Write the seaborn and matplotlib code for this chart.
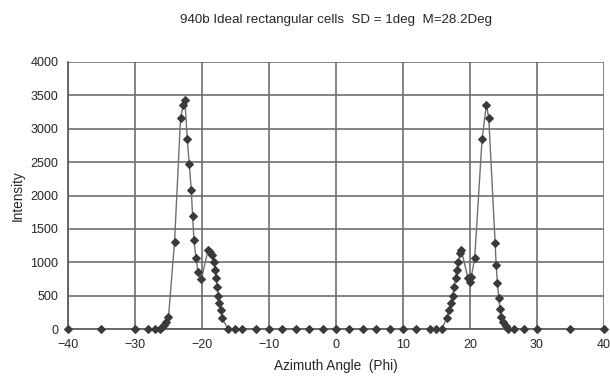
import matplotlib
matplotlib.use("Agg")
import matplotlib.pyplot as plt
import seaborn as sns
import pandas as pd

# Azimuth angle (deg) and intensity
phi = [-40, -35, -30, -28, -27, -26.3, -25.9, -25.6, -25.3, -25.0,
       -24.1, -23.2, -22.8, -22.55, -22.2, -21.9, -21.6, -21.4, -21.2,
       -20.9, -20.6, -20.1, -19.1, -18.8, -18.5, -18.25, -18.0, -17.85,
       -17.7, -17.55, -17.4, -17.2, -17.0, -16.1, -15, -14, -12, -10, -8,
       -6, -4, -2, 0, 2, 4, 6, 8, 10, 12, 14, 15, 15.8, 16.5, 16.9, 17.1,
       17.4, 17.65, 17.85, 18.0, 18.25, 18.5, 18.7, 19.7, 20.0, 20.2,
       20.7, 21.8, 22.45, 22.8, 23.75, 23.9, 24.1, 24.3, 24.5, 24.7, 24.9,
       25.3, 25.7, 26.5, 28, 30, 35, 40]
intensity = [0, 0, 0, 0, 0, 0, 25, 60, 110, 180,
             1300, 3160, 3360, 3430, 2840, 2470, 2080, 1690, 1330,
             1060, 860, 750, 1180, 1150, 1110, 1010, 880, 760,
             630, 500, 385, 285, 160, 0, 0, 0, 0, 0, 0,
             0, 0, 0, 0, 0, 0, 0, 0, 0, 0, 0, 0, 0, 160, 285, 385,
             494, 634, 760, 884, 1008, 1134, 1183, 760, 709, 784,
             1059, 2842, 3360, 3160, 1293, 959, 684, 460, 300, 184, 110,
             45, 0, 0, 0, 0, 0, 0]

x_ticks = [-40, -30, -20, -10, 0, 10, 20, 30, 40]
y_ticks = [0, 500, 1000, 1500, 2000, 2500, 3000, 3500, 4000]

title = "940b Ideal rectangular cells  SD = 1deg  M=28.2Deg"
x_label = "Azimuth Angle  (Phi)"
y_label = "Intensity"

sns.set_style("white")
plt.rcParams['font.family'] = ['Liberation Sans', 'DejaVu Sans']

df = pd.DataFrame({"phi": phi, "intensity": intensity})

fig = plt.figure(figsize=(6.10, 3.87), dpi=100)
ax = fig.add_axes([68/610, 1 - 329/387, (604-68)/610, (329-62)/387])

sns.lineplot(data=df, x="phi", y="intensity", ax=ax, color="#707070",
             linewidth=1.0, marker="D", markersize=4.2,
             markerfacecolor="#3a3a3a", markeredgecolor="#3a3a3a", sort=False,
             clip_on=False, zorder=5)

ax.set_xlim(-40, 40)
ax.set_ylim(0, 4000)
ax.set_xticks(x_ticks)
ax.set_yticks(y_ticks)
ax.grid(True, color="#6e6e6e", linewidth=1.2)
ax.set_axisbelow(True)
for s in ["top", "right"]:
    ax.spines[s].set_visible(False)
for s in ["left", "bottom"]:
    ax.spines[s].set_color("#555555")
    ax.spines[s].set_linewidth(1.2)
ax.tick_params(axis="both", labelsize=9, length=3, color="#555555", pad=4)
ax.set_xlabel(x_label, fontsize=9.8, labelpad=6)
ax.set_ylabel(y_label, fontsize=9.8, labelpad=4)
fig.text(336/610, 1 - 20/387, title, ha="center", va="center", fontsize=9.6)

fig.savefig("out.png", dpi=100)
